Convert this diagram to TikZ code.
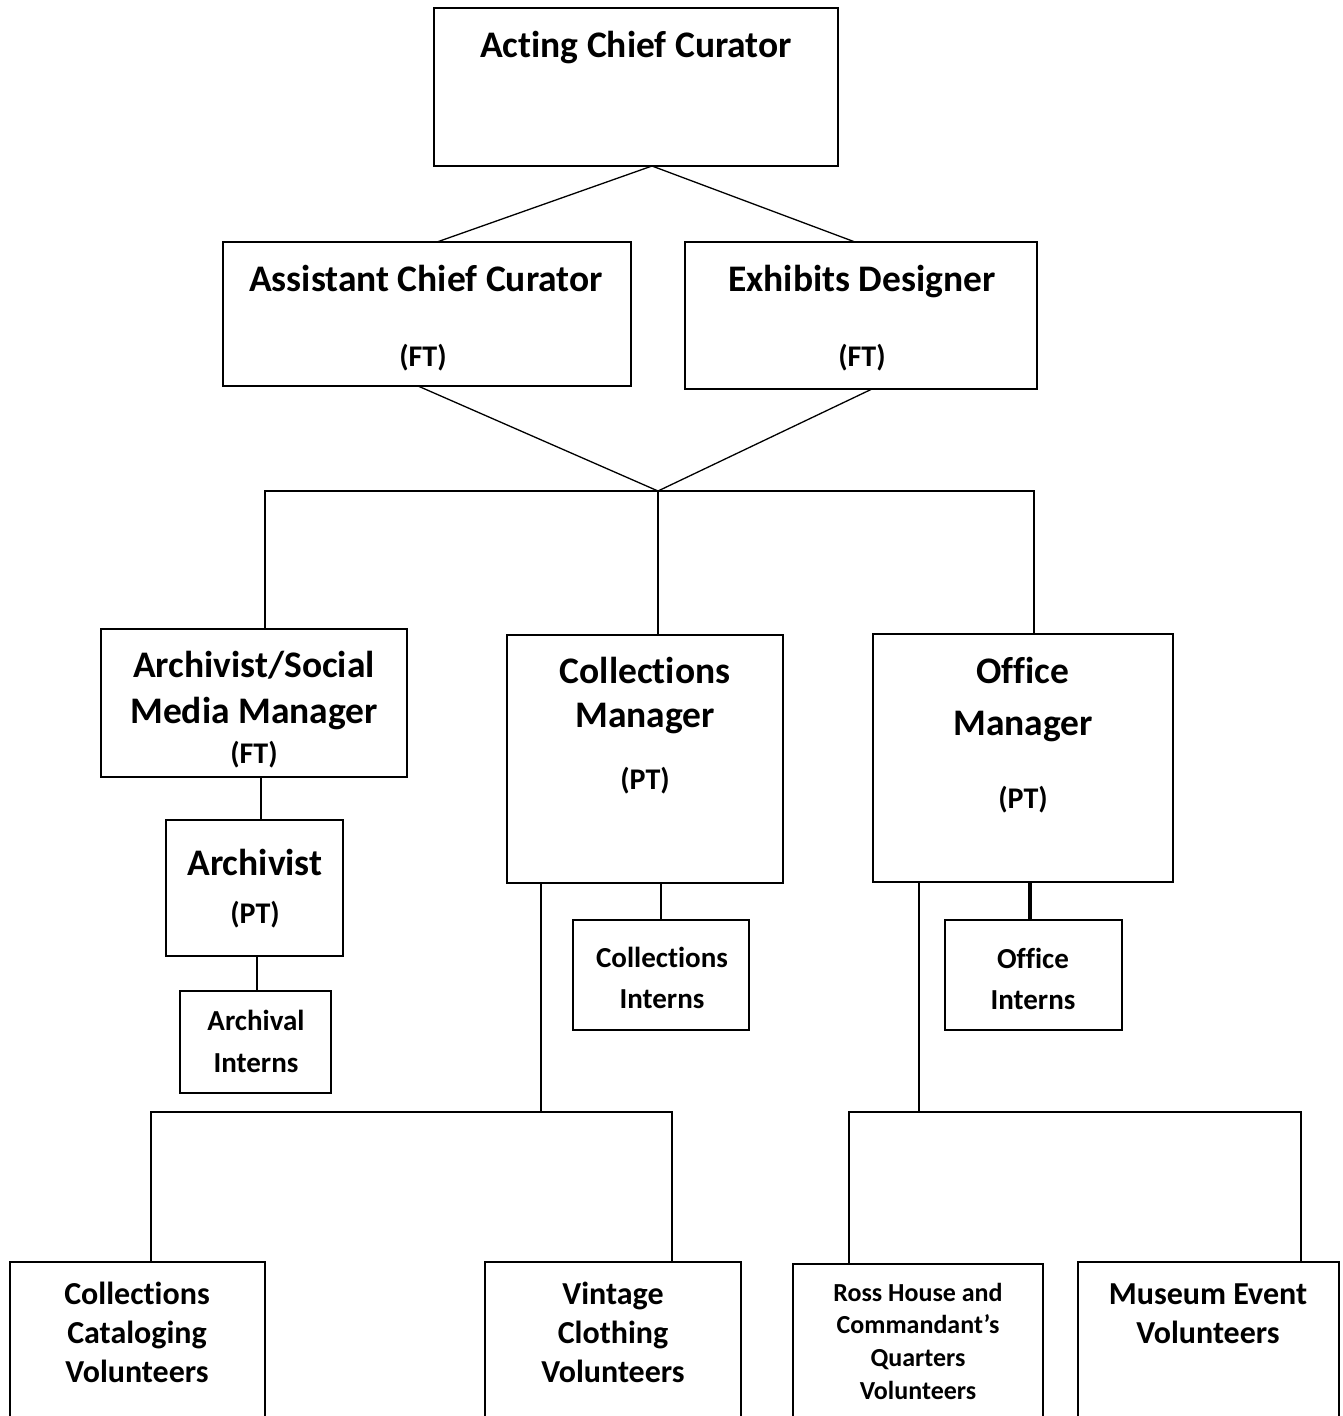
\documentclass[tikz,border=0pt]{standalone}
\usepackage{fontspec}
\setmainfont{Carlito}[Ligatures=NoCommon]
\usetikzlibrary{calc}

\tikzset{
  box/.style={draw, line width=1.6pt, inner sep=0pt, outer sep=0pt},
  link/.style={line width=1.3pt},
  big/.style={font=\bfseries\fontsize{37.5}{44}\selectfont, inner sep=0pt, anchor=base},
  tag/.style={font=\bfseries\fontsize{30}{34}\selectfont, inner sep=0pt, anchor=base},
  mid/.style={font=\bfseries\fontsize{32}{38}\selectfont, inner sep=0pt, anchor=base},
  small/.style={font=\bfseries\fontsize{29}{34}\selectfont, inner sep=0pt, anchor=base},
  tiny/.style={font=\bfseries\fontsize{26}{30}\selectfont, inner sep=0pt, anchor=base}
}

\begin{document}
\begin{tikzpicture}[x=1pt,y=-1pt]
  \useasboundingbox (0,0) rectangle (1343,1416);
  \clip (0,0) rectangle (1343,1416);

  % boxes
  \node[box, minimum width=404, minimum height=158] (chief) at (636,87) {};
  \node[box, minimum width=408, minimum height=144] (asst) at (427,314) {};
  \node[box, minimum width=352, minimum height=147] (exhib) at (861,315.5) {};
  \node[box, minimum width=306, minimum height=148] (arch) at (254,703) {};
  \node[box, minimum width=276, minimum height=248] (coll) at (645,759) {};
  \node[box, minimum width=300, minimum height=248] (office) at (1023,758) {};
  \node[box, minimum width=177, minimum height=136] (archpt) at (254.5,888) {};
  \node[box, minimum width=151, minimum height=102] (archint) at (255.5,1042) {};
  \node[box, minimum width=176, minimum height=110] (collint) at (661,975) {};
  \node[box, minimum width=177, minimum height=110] (offint) at (1033.5,975) {};
  \node[box, minimum width=255, minimum height=178] (cat) at (137.5,1351) {};
  \node[box, minimum width=256, minimum height=178] (vint) at (613,1351) {};
  \node[box, minimum width=250, minimum height=176] (ross) at (918,1352) {};
  \node[box, minimum width=261, minimum height=178] (museum) at (1208.5,1351) {};
  \foreach \b in {cat,vint,ross,museum}
    \draw[line width=2.6pt] (\b.north west) -- (\b.north east);

  % texts
  \node[big] (chieft) at (636,57) {Acting Chief Curator};
  \node[big] (asstt) at (426,291) {Assistant Chief Curator};
  \node[tag] (asstft) at (423,366) {(FT)};
  \node[big] (exhibt) at (862,291) {Exhibits Designer};
  \node[tag] (exhibft) at (862,366) {(FT)};
  \node[big] (archt1) at (254,677) {Archivist/Social};
  \node[big] (archt2) at (254,723) {Media Manager};
  \node[tag] (archft) at (254,763) {(FT)};
  \node[big] (collt1) at (645,683) {Collections};
  \node[big] (collt2) at (645,727) {Manager};
  \node[tag] (collpt) at (645,789) {(PT)};
  \node[big] (officet1) at (1023,683) {Office};
  \node[big] (officet2) at (1023,735) {Manager};
  \node[tag] (officept) at (1023,808) {(PT)};
  \node[big] (archptt) at (255,875) {Archivist};
  \node[tag] (archptpt) at (255,923) {(PT)};
  \foreach \t [count=\i from 0] in {Archival,Interns}
    \node[small] (archint\i) at (256,1030+42*\i) {\t};
  \foreach \t [count=\i from 0] in {Collections,Interns}
    \node[small] (collint\i) at (662,967+41*\i) {\t};
  \foreach \t [count=\i from 0] in {Office,Interns}
    \node[small] (offint\i) at (1033,968+41*\i) {\t};
  \foreach \t [count=\i from 0] in {Collections,Cataloging,Volunteers}
    \node[mid] (cat\i) at (137,1304+39*\i) {\t};
  \foreach \t [count=\i from 0] in {Vintage,Clothing,Volunteers}
    \node[mid] (vint\i) at (613,1304+39*\i) {\t};
  \foreach \t [count=\i from 0] in {Ross House and,Commandant’s,Quarters,Volunteers}
    \node[tiny] (ross\i) at (918,1301+32.8*\i) {\t};
  \foreach \t [count=\i from 0] in {Museum Event,Volunteers}
    \node[mid] (museum\i) at (1208,1304+39*\i) {\t};

  % junctions
  \coordinate (hub) at (658,491);
  \coordinate (cjoin) at (541,1112);
  \coordinate (ojoin) at (919,1112);

  % links
  \draw[link] ([xshift=16]chief.south) -- ([xshift=10]asst.north);
  \draw[link] ([xshift=16]chief.south) -- ([xshift=-6]exhib.north);
  \draw[link] ([xshift=-9]asst.south) -- (hub);
  \draw[link] ([xshift=11]exhib.south) -- (hub);
  \draw[link] ([xshift=11]arch.north) |- (hub) -| ([xshift=11]office.north);
  \draw[link] (hub) -- (hub |- coll.north);
  \draw[link] ([xshift=7]arch.south) -- ([xshift=7]arch.south |- archpt.north);
  \draw[link] ([xshift=2.5]archpt.south) -- ([xshift=2.5]archpt.south |- archint.north);
  \draw[link] (collint.north |- coll.south) -- (collint.north);
  \draw[line width=3.6pt] ([xshift=-3.5]offint.north |- office.south) -- ([xshift=-3.5]offint.north);
  \draw[link] ([xshift=34]coll.south west) -- (cjoin);
  \draw[link] ([xshift=13.5]cat.north) |- (cjoin) -| ([xshift=59]vint.north);
  \draw[link] ([xshift=46]office.south west) -- (ojoin);
  \draw[link] ([xshift=-69]ross.north) |- (ojoin) -| ([xshift=92.5]museum.north);
\end{tikzpicture}
\end{document}
